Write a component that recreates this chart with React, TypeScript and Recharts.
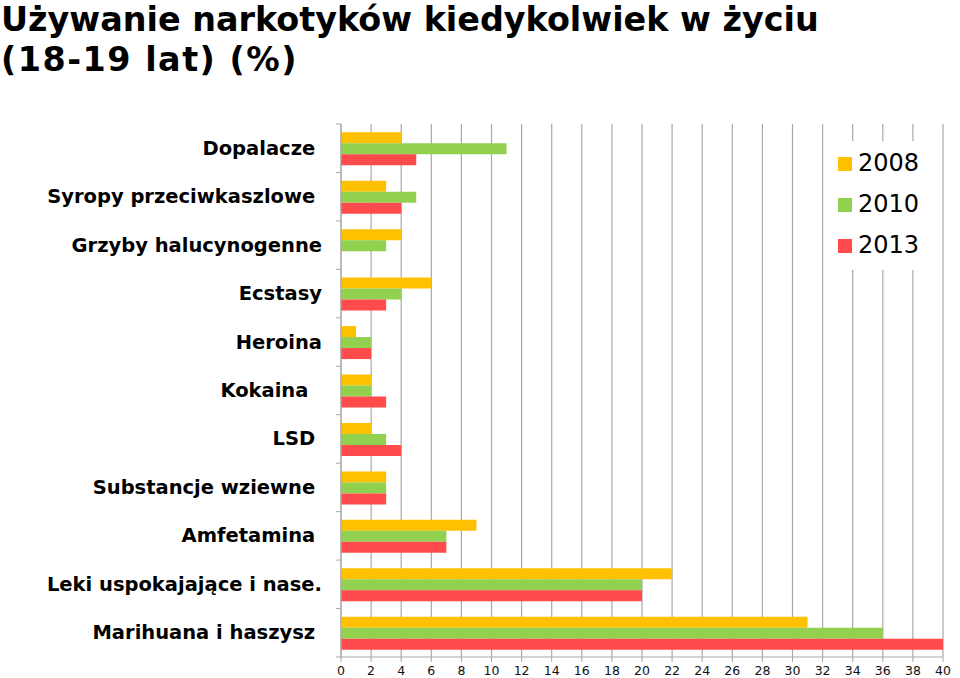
import React from 'react';
import { BarChart, Bar, XAxis, YAxis, CartesianGrid, Legend } from 'recharts';

const titleLines = ['Używanie narkotyków kiedykolwiek w życiu', '(18-19 lat) (%)'];
const categories = [
  'Dopalacze ',
  'Syropy przeciwkaszlowe ',
  'Grzyby halucynogenne',
  'Ecstasy',
  'Heroina',
  'Kokaina  ',
  'LSD ',
  'Substancje wziewne ',
  'Amfetamina ',
  'Leki uspokajające i nase.',
  'Marihuana i haszysz ',
];
const values2008 = [4, 3, 4, 6, 1, 2, 2, 3, 9, 22, 31];
const values2010 = [11, 5, 3, 4, 2, 2, 3, 3, 7, 20, 36];
const values2013 = [5, 4, null, 3, 2, 3, 4, 3, 7, 20, 40];
const seriesNames = ['2008', '2010', '2013'];
const seriesColors = ['#FFC000', '#92D050', '#FF4B4B'];
const xTicks = [0, 2, 4, 6, 8, 10, 12, 14, 16, 18, 20, 22, 24, 26, 28, 30, 32, 34, 36, 38, 40];

const data = categories.map((c, i) => ({
  name: c,
  '2008': values2008[i],
  '2010': values2010[i],
  '2013': values2013[i],
}));

const W = 960;
const H = 678;
const TOP = 124;
const XAXIS_H = 21;
const PLOT_H = H - TOP - XAXIS_H;
const BAND = PLOT_H / categories.length;
const GRID = '#a8a8a8';
const FONT = '"DejaVu Sans", Verdana, sans-serif';

const YTick = (props: any) => {
  const { x, y, payload, index } = props;
  const axisX = x + 19;
  return (
    <g>
      <text
        x={x}
        y={y}
        textAnchor="end"
        dominantBaseline="central"
        style={{ whiteSpace: 'pre' }}
        fontFamily={FONT}
        fontWeight="bold"
        fontSize={19.5}
        fill="#000"
      >
        {payload.value}
      </text>
      <line x1={axisX - 5} x2={axisX} y1={y - BAND / 2} y2={y - BAND / 2} stroke={GRID} />
      {index === categories.length - 1 && (
        <line x1={axisX - 5} x2={axisX} y1={y + BAND / 2} y2={y + BAND / 2} stroke={GRID} />
      )}
    </g>
  );
};

const LegendContent = () => (
  <div style={{ background: '#fff', padding: '2px 0 4px 8px', fontFamily: FONT }}>
    {seriesNames.map((n, i) => (
      <div key={n} style={{ display: 'flex', alignItems: 'center', height: 41 }}>
        <span style={{ width: 14, height: 14, background: seriesColors[i], display: 'inline-block', marginRight: 6 }} />
        <span style={{ fontSize: 24, color: '#000', lineHeight: '41px' }}>{n}</span>
      </div>
    ))}
  </div>
);

export default function App() {
  return (
    <div style={{ position: 'absolute', left: 0, top: 0, width: W, height: H, background: '#fff' }}>
      <div
        style={{
          position: 'absolute',
          left: 1,
          top: 0,
          fontFamily: FONT,
          fontWeight: 'bold',
          fontSize: 33.4,
          lineHeight: '40px',
          color: '#000',
          whiteSpace: 'nowrap',
        }}
      >
        <div>{titleLines[0]}</div>
        <div style={{ letterSpacing: 1.5 }}>{titleLines[1]}</div>
      </div>
      <div style={{ position: 'absolute', left: 0, top: 0 }}>
        <BarChart
          width={W}
          height={H}
          data={data}
          layout="vertical"
          margin={{ top: TOP, right: 17, bottom: 0, left: 0 }}
          barCategoryGap="17%"
          barGap={0}
        >
          <CartesianGrid horizontal={false} stroke={GRID} strokeWidth={1.2} />
          <XAxis
            type="number"
            domain={[0, 40]}
            ticks={xTicks}
            interval={0}
            height={XAXIS_H}
            axisLine={{ stroke: GRID }}
            tickLine={{ stroke: GRID }}
            tickSize={5}
            tickMargin={4}
            tick={{ fontFamily: FONT, fontSize: 12.5, fill: '#111' }}
          />
          <YAxis
            type="category"
            dataKey="name"
            width={341}
            interval={0}
            axisLine={{ stroke: GRID }}
            tickLine={false}
            tickSize={5}
            tickMargin={14}
            tick={<YTick />}
          />
          <Legend
            layout="horizontal"
            align="center"
            verticalAlign="middle"
            content={<LegendContent />}
            wrapperStyle={{ position: 'absolute', left: 830, top: 141, width: 106, height: 'auto' }}
          />
          {seriesNames.map((n, i) => (
            <Bar key={n} dataKey={n} fill={seriesColors[i]} isAnimationActive={false} />
          ))}
        </BarChart>
      </div>
    </div>
  );
}
